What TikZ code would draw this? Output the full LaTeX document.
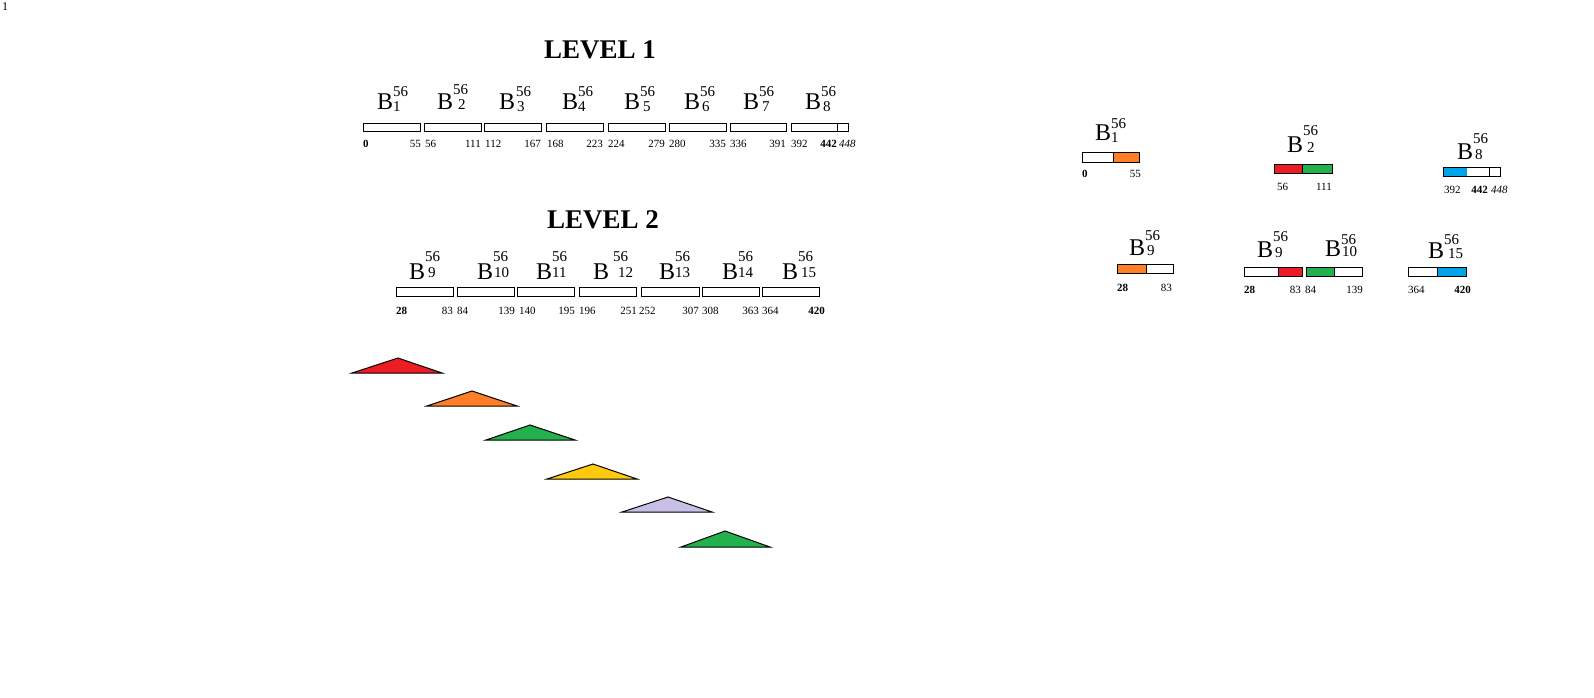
\documentclass[tikz,border=0pt]{standalone}
\usepackage{fontspec}
\setmainfont{Liberation Serif}
\definecolor{cred}{HTML}{ED1C24}
\definecolor{corange}{HTML}{FF7F27}
\definecolor{cgreen}{HTML}{22B14C}
\definecolor{cyellow}{HTML}{FFC90E}
\definecolor{clav}{HTML}{C8BFE7}
\definecolor{cblue}{HTML}{00A2E8}
\newcommand\supf{\fontsize{15}{15}\selectfont}
% name, x, baseline, sub, supraise, supdx, subdx, subraise
\newcommand\Blab[8]{\node[lab,anchor=base west] (#1) at (#2,#3) {B\rlap{\hspace{#6pt}\raisebox{#5pt}{\supf 56}}\hspace{#7pt}\raisebox{#8pt}{\supf #4}};}
\tikzset{
  bx/.style={draw=black, line width=1pt},
  num/.style={inner sep=0pt, font=\fontsize{11}{11}\selectfont},
  lab/.style={inner sep=0pt, font=\fontsize{24}{24}\selectfont},
  ttl/.style={inner sep=0pt, font=\fontsize{27}{27}\selectfont\bfseries},
  tri/.style={draw=black, line width=1pt, line join=miter},
}
\begin{document}
\begin{tikzpicture}[x=1pt,y=-1pt]
\useasboundingbox (0,0) rectangle (1594,697);
\fill[white] (0,0) rectangle (1594,697);
\node[inner sep=0pt,anchor=base west,font=\fontsize{12}{12}\selectfont] (pg) at (2,10) {1};
% titles
\node[ttl,anchor=base west] (lv1) at (544,58) {LEVEL 1};
\node[ttl,anchor=base west] (lv2) at (547,228) {LEVEL 2};
% ---------- level 1 labels
\Blab{b1}{377}{109}{1}{13}{0}{0}{-2}
\Blab{b2}{437}{109}{2}{15}{0}{5}{0}
\Blab{b3}{499}{109}{3}{13}{1}{2}{-2}
\Blab{b4}{562}{109}{4}{13}{0}{0}{-2}
\Blab{b5}{624}{109}{5}{13}{0}{3}{-2}
\Blab{b6}{684}{109}{6}{13}{0}{2}{-2}
\Blab{b7}{743}{109}{7}{13}{0}{3}{-2}
\Blab{b8}{805}{109}{8}{13}{0}{2}{-2}
% level 1 boxes
\draw[bx] (363,123) rectangle (420,131);
\draw[bx] (424,123) rectangle (481,131);
\draw[bx] (484,123) rectangle (541,131);
\draw[bx] (546,123) rectangle (603,131);
\draw[bx] (608,123) rectangle (665,131);
\draw[bx] (669,123) rectangle (726,131);
\draw[bx] (730,123) rectangle (786,131);
\draw[bx] (791,123) rectangle (848,131);
\draw[bx] (837,123) -- (837,131);
% level 1 numbers
\node[num,anchor=base west] (s1) at (363,147) {\bfseries 0};
\node[num,anchor=base east] (e1) at (421,147) {55};
\node[num,anchor=base west] (s2) at (425,147) {56};
\node[num,anchor=base east] (e2) at (481,147) {111};
\node[num,anchor=base west] (s3) at (485,147) {112};
\node[num,anchor=base east] (e3) at (541,147) {167};
\node[num,anchor=base west] (s4) at (547,147) {168};
\node[num,anchor=base east] (e4) at (603,147) {223};
\node[num,anchor=base west] (s5) at (608,147) {224};
\node[num,anchor=base east] (e5) at (665,147) {279};
\node[num,anchor=base west] (s6) at (669,147) {280};
\node[num,anchor=base east] (e6) at (726,147) {335};
\node[num,anchor=base west] (s7) at (730,147) {336};
\node[num,anchor=base east] (e7) at (786,147) {391};
\node[num,anchor=base west] (s8) at (791,147) {392};
\node[num,anchor=base east] (e8) at (837,147) {\bfseries 442};
\node[num,anchor=base west] (x8) at (839,147) {\itshape 448};
% ---------- level 2 labels
\Blab{b9}{409}{279}{9}{18}{0}{3}{2}
\Blab{b10}{477}{279}{10}{18}{0}{1}{2}
\Blab{b11}{536}{279}{11}{18}{0}{0}{2}
\Blab{b12}{593}{279}{12}{18}{4}{9}{2}
\Blab{b13}{659}{279}{13}{18}{0}{0}{2}
\Blab{b14}{722}{279}{14}{18}{0}{0}{2}
\Blab{b15}{782}{279}{15}{18}{0}{3}{2}
% level 2 boxes
\draw[bx] (396,287) rectangle (453,296);
\draw[bx] (457,287) rectangle (514,296);
\draw[bx] (517,287) rectangle (574,296);
\draw[bx] (579,287) rectangle (636,296);
\draw[bx] (641,287) rectangle (699,296);
\draw[bx] (702,287) rectangle (759,296);
\draw[bx] (762,287) rectangle (819,296);
% level 2 numbers
\node[num,anchor=base west] (s9) at (396,314) {\bfseries 28};
\node[num,anchor=base east] (e9) at (453,314) {83};
\node[num,anchor=base west] (s10) at (457,314) {84};
\node[num,anchor=base east] (e10) at (515,314) {139};
\node[num,anchor=base west] (s11) at (519,314) {140};
\node[num,anchor=base east] (e11) at (575,314) {195};
\node[num,anchor=base west] (s12) at (579,314) {196};
\node[num,anchor=base east] (e12) at (637,314) {251};
\node[num,anchor=base west] (s13) at (639,314) {252};
\node[num,anchor=base east] (e13) at (699,314) {307};
\node[num,anchor=base west] (s14) at (702,314) {308};
\node[num,anchor=base east] (e14) at (759,314) {363};
\node[num,anchor=base west] (s15) at (762,314) {364};
\node[num,anchor=base east] (e15) at (825,314) {\bfseries 420};
% ---------- triangles
\draw[tri,fill=cred] (352,373) -- (398,358) -- (442,373) -- cycle;
\draw[tri,fill=corange] (427,406) -- (472,391) -- (517,406) -- cycle;
\draw[tri,fill=cgreen] (486,440) -- (530,425) -- (575,440) -- cycle;
\draw[tri,fill=cyellow] (547,479) -- (593,464) -- (637,479) -- cycle;
\draw[tri,fill=clav] (622,512) -- (668,497) -- (712,512) -- cycle;
\draw[tri,fill=cgreen] (681,547) -- (725,531) -- (770,547) -- cycle;
% ---------- right side, top row
\Blab{r1}{1095}{140}{1}{12}{0}{0}{-2}
\fill[corange] (1113,152) rectangle (1139,162);
\draw[bx] (1082,152) rectangle (1139,162);
\draw[bx] (1113,152) -- (1113,162);
\node[num,anchor=base west] (rs1) at (1082,177) {\bfseries 0};
\node[num,anchor=base east] (re1) at (1141,177) {55};

\Blab{r2}{1287}{152}{2}{17}{0}{4}{0}
\fill[cred] (1274,164) rectangle (1302,173);
\fill[cgreen] (1302,164) rectangle (1332,173);
\draw[bx] (1274,164) rectangle (1332,173);
\draw[bx] (1302,164) -- (1302,173);
\node[num,anchor=base west] (rs2) at (1277,190) {56};
\node[num,anchor=base east] (re2) at (1332,190) {111};

\Blab{r8}{1457}{159}{8}{16}{0}{2}{0}
\fill[cblue] (1443,167) rectangle (1467,176);
\draw[bx] (1443,167) rectangle (1500,176);
\draw[bx] (1489,167) -- (1489,176);
\node[num,anchor=base west] (rs8) at (1444,193) {392};
\node[num,anchor=base east] (re8) at (1488,193) {\bfseries 442};
\node[num,anchor=base west] (rx8) at (1491,193) {\itshape 448};
% ---------- right side, bottom row
\Blab{r9}{1129}{255}{9}{15}{0}{2}{0}
\fill[corange] (1117,264) rectangle (1146,273);
\draw[bx] (1117,264) rectangle (1173,273);
\draw[bx] (1146,264) -- (1146,273);
\node[num,anchor=base west] (rs9) at (1117,291) {\bfseries 28};
\node[num,anchor=base east] (re9) at (1172,291) {83};

\Blab{r9b}{1257}{257}{9}{16}{0}{2}{0}
\fill[cred] (1278,267) rectangle (1302,276);
\draw[bx] (1244,267) rectangle (1302,276);
\draw[bx] (1278,267) -- (1278,276);
\node[num,anchor=base west] (rs9b) at (1244,293) {\bfseries 28};
\node[num,anchor=base east] (re9b) at (1301,293) {83};

\Blab{r10}{1325}{256}{10}{12}{0}{1}{0}
\fill[cgreen] (1306,267) rectangle (1334,276);
\draw[bx] (1306,267) rectangle (1362,276);
\draw[bx] (1334,267) -- (1334,276);
\node[num,anchor=base west] (rs10) at (1305,293) {84};
\node[num,anchor=base east] (re10) at (1363,293) {139};

\Blab{r15}{1428}{258}{15}{14}{0}{4}{0}
\fill[cblue] (1437,267) rectangle (1466,276);
\draw[bx] (1408,267) rectangle (1466,276);
\draw[bx] (1437,267) -- (1437,276);
\node[num,anchor=base west] (rs15) at (1408,293) {364};
\node[num,anchor=base east] (re15) at (1471,293) {\bfseries 420};
\end{tikzpicture}
\end{document}
